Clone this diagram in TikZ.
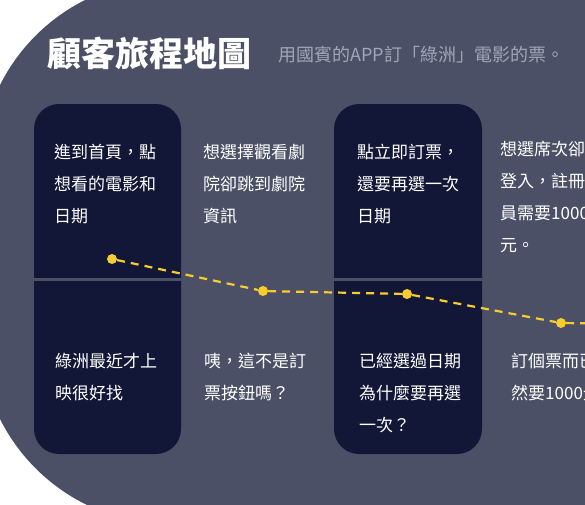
\documentclass[tikz,border=0pt]{standalone}
\usepackage{fontspec}
\setmainfont{Noto Sans CJK TC}
\definecolor{slate}{RGB}{75,80,102}
\definecolor{navy}{RGB}{19,23,55}
\definecolor{mist}{RGB}{160,165,186}
\definecolor{gold}{RGB}{247,204,46}

\begin{document}
\begin{tikzpicture}[x=1pt, y=-1pt,
  card/.style={fill=navy, rounded corners=25pt},
  note/.style={text=white, font=\fontsize{17}{32}\selectfont, align=left,
    anchor=north west, inner sep=0pt},
  dot/.style={circle, fill=gold, inner sep=0pt, minimum size=10pt},
  trail/.style={gold, line width=2.2pt, dash pattern=on 8pt off 6pt}]
  \useasboundingbox (0,0) rectangle (585,504);
  \clip (0,0) rectangle (585,504);
  \fill[white] (0,0) rectangle (585,504);
  \fill[slate, rounded corners=190pt] (-20,-20) rectangle (1200,524);   % panel

  % cards, split by a thin gap
  \fill[card] (34,104) rectangle (181,454);
  \fill[card] (334,104) rectangle (482,454);
  \draw[slate, line width=3pt] (34,279) -- (181,279);
  \draw[slate, line width=3pt] (334,279) -- (482,279);

  \node[anchor=west, text=white, font=\fontsize{34}{34}\selectfont\bfseries] (title) at (44,53) {顧客旅程地圖};
  \node[anchor=west, text=mist, font=\fontsize{18}{18}\selectfont] (sub) at (275,55) {用國賓的APP訂「綠洲」電影的票。};

  % actions
  \node[note] (t1) at (54,144) {進到首頁，點\\想看的電影和\\日期};
  \node[note] (t2) at (203,144) {想選擇觀看劇\\院卻跳到劇院\\資訊};
  \node[note] (t3) at (357,144) {點立即訂票，\\還要再選一次\\日期};
  \node[note] (t4) at (500,141) {想選席次卻要\\登入，註冊會\\員需要1000\\元。};

  % thoughts
  \node[note] (b1) at (55,353) {綠洲最近才上\\映很好找};
  \node[note] (b2) at (204,353) {咦，這不是訂\\票按鈕嗎？};
  \node[note] (b3) at (359,353) {已經選過日期\\為什麼要再選\\一次？};
  \node[note] (b4) at (511,353) {訂個票而已居\\然要1000元。};

  % mood line
  \node[dot] (d1) at (112,259) {};
  \node[dot] (d2) at (263,291) {};
  \node[dot] (d3) at (407,294) {};
  \node[dot] (d4) at (561,323) {};
  \coordinate (d5) at (715,325);
  \draw[trail] (d1) -- (d2) -- (d3) -- (d4) -- (d5);
\end{tikzpicture}
\end{document}
